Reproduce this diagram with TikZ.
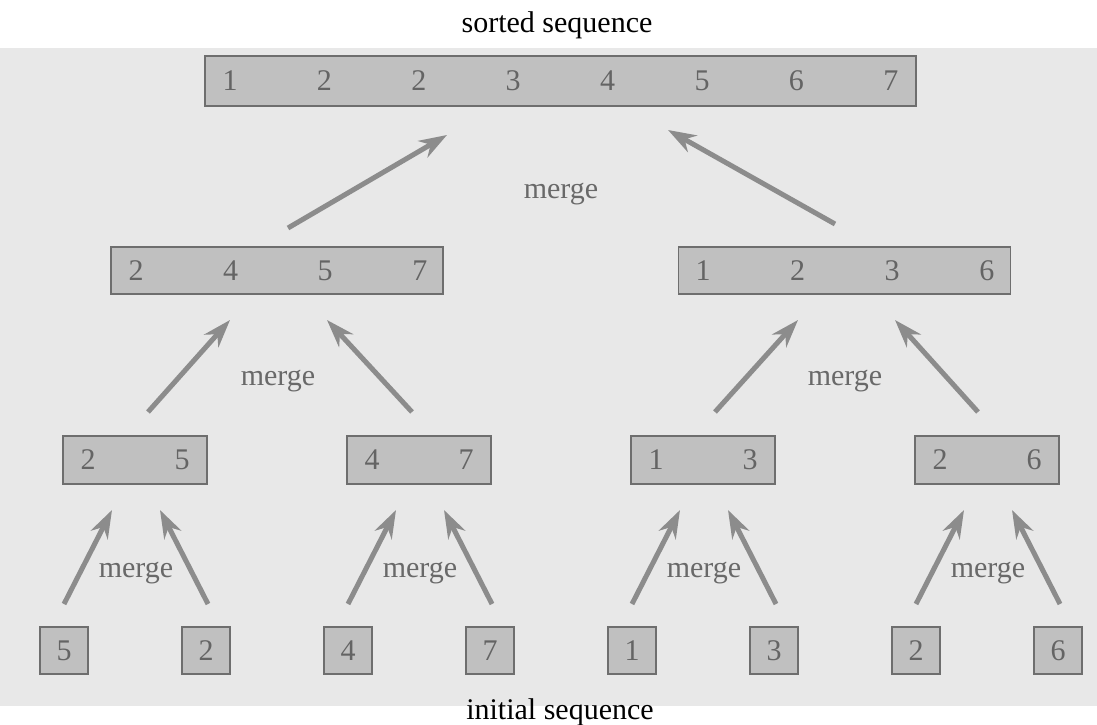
\documentclass[tikz,border=0pt]{standalone}
\usepackage{fontspec}
\setmainfont{Liberation Serif}
\usetikzlibrary{arrows.meta}
\definecolor{bgcol}{RGB}{232,232,232}
\definecolor{boxfill}{RGB}{192,192,192}
\definecolor{boxline}{RGB}{110,110,110}
\definecolor{arrcol}{RGB}{140,140,140}
\definecolor{digcol}{RGB}{100,100,100}
\definecolor{mergecol}{RGB}{105,105,105}
\tikzset{
  seqbox/.style={draw=boxline, fill=boxfill, line width=1.3pt, inner sep=0pt, rectangle},
  digit/.style={text=digcol, font=\fontsize{30}{36}\selectfont, inner sep=0pt},
  mlabel/.style={text=mergecol, font=\fontsize{30}{36}\selectfont, inner sep=0pt},
  title/.style={text=black, font=\fontsize{30}{36}\selectfont, inner sep=0pt},
  arr/.style={draw=arrcol, line width=5pt, -{Stealth[length=28pt,width=19pt,inset=9pt]}}
}
\begin{document}
\begin{tikzpicture}[x=1pt,y=-1pt]
\useasboundingbox (0,0) rectangle (1097,725);
\fill[bgcol] (0,48) rectangle (1097,706);

% titles
\node[title] (sorted) at (557,25) {sorted sequence};
\node[title] (initial) at (560,712) {initial sequence};

% top box
\node[seqbox, minimum width=711pt, minimum height=50pt] (top) at (560.5,81) {};
\foreach \d [count=\i from 0] in {1,2,2,3,4,5,6,7}
  \node[digit] (t\i) at (230+94.4*\i,81) {\d};

% level 2
\node[seqbox, minimum width=332pt, minimum height=47pt] (mL) at (277,270.5) {};
\foreach \d [count=\i from 0] in {2,4,5,7}
  \node[digit] (mLd\i) at (136+94.6*\i,270.5) {\d};
\node[seqbox, minimum width=332pt, minimum height=47pt] (mR) at (844.5,270.5) {};
\foreach \d [count=\i from 0] in {1,2,3,6}
  \node[digit] (mRd\i) at (703+94.6*\i,270.5) {\d};

% level 3
\foreach \n/\cx/\a/\b in {q1/135/2/5, q2/419/4/7, q3/703/1/3, q4/987/2/6}{
  \node[seqbox, minimum width=144pt, minimum height=48pt] (\n) at (\cx,460) {};
  \node[digit] (\n a) at (\cx-47,460) {\a};
  \node[digit] (\n b) at (\cx+47,460) {\b};
}

% leaves
\foreach \n/\cx/\d in {l1/64/5, l2/206/2, l3/348/4, l4/490/7, l5/632/1, l6/774/3, l7/916/2, l8/1058/6}{
  \node[seqbox, minimum width=48pt, minimum height=47pt] (\n) at (\cx,650.5) {};
  \node[digit] (\n d) at (\cx,650.5) {\d};
}

% merge labels
\node[mlabel] (m0) at (561,194) {merge};
\node[mlabel] (m1) at (278,381) {merge};
\node[mlabel] (m2) at (845,381) {merge};
\node[mlabel] (m3) at (136,573) {merge};
\node[mlabel] (m4) at (420,573) {merge};
\node[mlabel] (m5) at (704,573) {merge};
\node[mlabel] (m6) at (988,573) {merge};

% leaves -> level 3
\foreach \q/\cx/\la/\lb in {q1/135/64/206, q2/419/348/490, q3/703/632/774, q4/987/916/1058}{
  \coordinate (\q tl) at (\la,604);
  \coordinate (\q hl) at (\cx-23,510);
  \coordinate (\q tr) at (\lb+2,604);
  \coordinate (\q hr) at (\cx+25,510);
  \draw[arr] (\q tl) -- (\q hl);
  \draw[arr] (\q tr) -- (\q hr);
}
% level 3 -> level 2
\coordinate (a1t) at (148,412); \coordinate (a1h) at (230,320);
\coordinate (a2t) at (412,412); \coordinate (a2h) at (327,320);
\coordinate (a3t) at (715,412); \coordinate (a3h) at (798,320);
\coordinate (a4t) at (978,412); \coordinate (a4h) at (895,320);
\draw[arr] (a1t) -- (a1h);
\draw[arr] (a2t) -- (a2h);
\draw[arr] (a3t) -- (a3h);
\draw[arr] (a4t) -- (a4h);
% level 2 -> top
\coordinate (b1t) at (288,228); \coordinate (b1h) at (447,135);
\coordinate (b2t) at (835,224); \coordinate (b2h) at (668,130);
\draw[arr] (b1t) -- (b1h);
\draw[arr] (b2t) -- (b2h);
\end{tikzpicture}
\end{document}
